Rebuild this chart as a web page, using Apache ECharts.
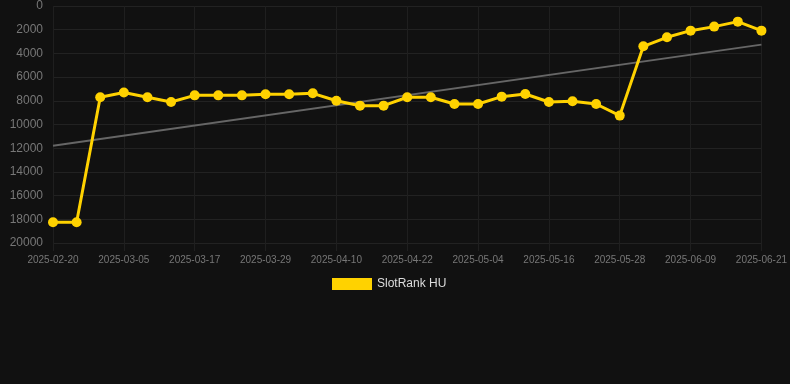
<!DOCTYPE html>
<html>
<head>
<meta charset="utf-8">
<script src="https://cdn.jsdelivr.net/npm/echarts@6/dist/echarts.min.js"></script>
<style>
html,body{margin:0;padding:0;background:#111111;}
#c{width:790px;height:384px;}
</style>
</head>
<body>
<div id="c"></div>
<script>
const categories = [
  '2025-02-20','2025-02-25','2025-03-01','2025-03-05','2025-03-09','2025-03-13',
  '2025-03-17','2025-03-21','2025-03-25','2025-03-29','2025-04-02','2025-04-06',
  '2025-04-10','2025-04-14','2025-04-18','2025-04-22','2025-04-26','2025-04-30',
  '2025-05-04','2025-05-08','2025-05-12','2025-05-16','2025-05-20','2025-05-24',
  '2025-05-28','2025-06-01','2025-06-05','2025-06-09','2025-06-13','2025-06-17',
  '2025-06-21'
];
const rankValues = [
  18250, 18250, 7700, 7300, 7700, 8100,
  7540, 7540, 7540, 7450, 7450, 7370,
  8000, 8410, 8410, 7700, 7700, 8270,
  8270, 7650, 7430, 8100, 8040, 8270,
  9250, 3400, 2640, 2080, 1740, 1320,
  2080
];
const trendStart = 11790;
const trendEnd = 3260;
const trendValues = categories.map((_, i) => i === 0 ? trendStart : (i === categories.length - 1 ? trendEnd : null));
const seriesName = 'SlotRank HU';

const chart = echarts.init(document.getElementById('c'), null, {renderer: 'canvas'});
chart.setOption({
  backgroundColor: '#111111',
  animation: false,
  grid: {left: 53, right: 28, top: 6, bottom: 141, containLabel: false},
  legend: {
    data: [seriesName],
    top: 273,
    left: 327,
    itemWidth: 40,
    itemHeight: 12,
    icon: 'rect',
    textStyle: {color: '#dddddd', fontSize: 12, fontFamily: 'Liberation Sans, Arial, sans-serif'}
  },
  xAxis: {
    type: 'category',
    data: categories,
    boundaryGap: false,
    axisLine: {show: false, onZero: false},
    axisTick: {show: true, interval: 2, length: 8, lineStyle: {color: '#1f1f1f'}},
    axisLabel: {interval: 2, color: '#777777', fontSize: 10, margin: 12, fontFamily: 'Liberation Sans, Arial, sans-serif'},
    splitLine: {show: true, interval: 2, lineStyle: {color: '#1f1f1f', width: 1}}
  },
  yAxis: {
    type: 'value',
    inverse: true,
    min: 0,
    max: 20000,
    interval: 2000,
    axisLine: {show: false},
    axisTick: {show: false},
    axisLabel: {color: '#777777', fontSize: 12, margin: 10, fontFamily: 'Liberation Sans, Arial, sans-serif', formatter: v => String(v)},
    splitLine: {lineStyle: {color: '#222222', width: 1}}
  },
  series: [
    {
      name: seriesName,
      type: 'line',
      data: rankValues,
      color: '#FFD200',
      symbol: 'circle',
      symbolSize: 10,
      lineStyle: {width: 3, color: '#FFD200'},
      itemStyle: {color: '#FFD200'},
      z: 3
    },
    {
      name: 'trend',
      type: 'line',
      data: trendValues,
      connectNulls: true,
      symbol: 'none',
      lineStyle: {width: 2, color: '#666666'},
      silent: true,
      z: 2
    }
  ]
});
</script>
</body>
</html>
